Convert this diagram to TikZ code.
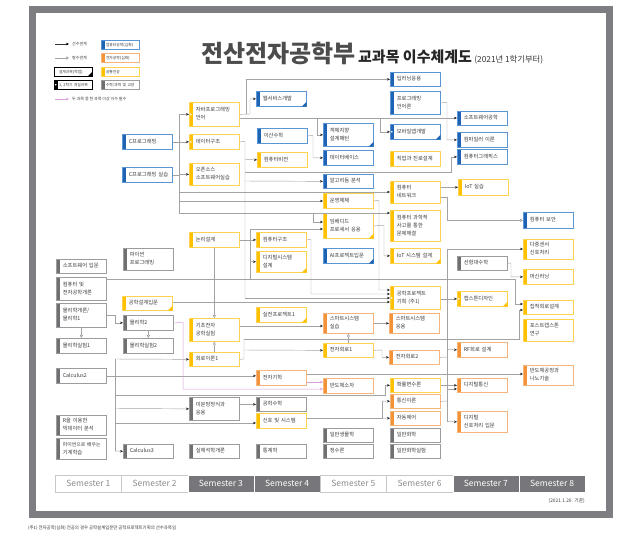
\documentclass[tikz,border=0pt]{standalone}
\usepackage{fontspec}
\newfontfamily\kr{Noto Sans CJK KR}
\usetikzlibrary{arrows.meta}
\definecolor{bluS}{HTML}{1F64B4}
\definecolor{bluB}{HTML}{5B95D3}
\definecolor{yelS}{HTML}{FFC000}
\definecolor{yelB}{HTML}{FFD34F}
\definecolor{orS}{HTML}{F39237}
\definecolor{orB}{HTML}{F6B57C}
\definecolor{grS}{HTML}{707073}
\definecolor{grB}{HTML}{9C9C9E}
\definecolor{txt}{HTML}{3A3A3A}
\definecolor{lnC}{HTML}{A3A3A3}
\definecolor{pinkC}{HTML}{D9A0DC}
\definecolor{frameC}{HTML}{7E7E82}
\definecolor{semD}{HTML}{77777B}
\newcommand{\btxt}[1]{\hspace*{2.5pt}\begin{tabular}{@{}l@{}}#1\end{tabular}}
\newcommand{\ltxt}[1]{\hspace*{1.2pt}\mbox{#1}}
\newcommand{\bx}[6]{\node[bx,#5,minimum height=#4pt] (#1) at (#2,#3) {\btxt{#6}};}
\newcommand{\trimark}[2]{\fill[#2] ([xshift=-5pt]#1.south east) -- (#1.south east) -- ([yshift=5pt]#1.south east) -- cycle;}
\newcommand{\dotmark}[1]{\fill[white] ([xshift=1.75pt]#1.west) circle (0.9pt);}
\tikzset{
  x=1pt,y=-1pt,
  strip/.style={path picture={\fill[#1] (path picture bounding box.north west) rectangle ([xshift=3.5pt]path picture bounding box.south west);}},
  bx/.style={rectangle, draw, line width=0.7pt, fill=white, inner xsep=4pt, inner ysep=0pt,
    text width=42pt, align=left, minimum width=50pt, anchor=north west,
    font=\kr\fontsize{5.3}{8}\selectfont, text=txt},
  cblue/.style={draw=bluB, strip=bluS},
  cyel/.style={draw=yelB, strip=yelS},
  cor/.style={draw=orB, strip=orS},
  cgr/.style={draw=grB, strip=grS},
  lbx/.style={rectangle, draw, line width=0.6pt, fill=white, inner xsep=3.5pt, inner ysep=0pt,
    text width=31pt, align=left, minimum width=38pt, minimum height=9pt, anchor=north west,
    font=\kr\fontsize{3.8}{5}\selectfont, text=txt},
  ltx/.style={anchor=west, inner sep=0pt, font=\kr\fontsize{4}{5}\selectfont, text=txt},
  ln/.style={draw=lnC, line width=0.45pt},
  ar/.style={ln, -{Stealth[length=3pt,width=2.6pt,color=black!85]}},
  op/.style={ln, -{Triangle[open,length=3pt,width=3pt,color=black!45]}},
  pk/.style={draw=pinkC, line width=0.5pt, -{Stealth[length=3pt,width=2.6pt,color=pinkC]}},
  semW/.style={rectangle, draw=black!22, fill=white, text=black!45, minimum width=66.25pt, minimum height=17pt, anchor=north west, inner sep=0pt, font=\kr\fontsize{8.5}{9}\selectfont},
  semK/.style={rectangle, draw=white, fill=semD, text=white, minimum width=66.25pt, minimum height=17pt, anchor=north west, inner sep=0pt, font=\kr\fontsize{8.5}{9}\selectfont}
}
\begin{document}
\begin{tikzpicture}
\useasboundingbox (0,0) rectangle (630,549);
\fill[white] (0,0) rectangle (630,549);
\draw[frameC, line width=7pt] (32.5,9.5) rectangle (609.5,514.5);

% title
\node[anchor=base west, inner sep=0pt, font=\kr\bfseries\fontsize{24}{24}\selectfont, text=black!70] (title) at (201,62) {전산전자공학부};
\node[anchor=base west, inner sep=0pt, font=\kr\bfseries\fontsize{15}{15}\selectfont, text=black!85] (subt) at ([xshift=2pt]title.base east) {교과목 이수체계도};
\node[anchor=base west, inner sep=0pt, font=\kr\fontsize{8.3}{9}\selectfont, text=black!80] (since) at ([xshift=2pt]subt.base east) {(2021년 1학기부터)};

% legend
\coordinate (l1a) at (55,44); \coordinate (l1b) at (69,44);
\draw[ln, draw=black!80, -{Stealth[length=3pt,width=2.6pt,color=black]}] (l1a) -- (l1b);
\node[ltx] (l1t) at (72,44) {선수관계};
\coordinate (l2a) at (55,58); \coordinate (l2b) at (69,58);
\draw[op] (l2a) -- (l2b);
\node[ltx] (l2t) at (72,58) {병수관계};
\node[lbx, draw=black] (lg3) at (54,67) {\ltxt{설계과목(학점)}};
\trimark{lg3}{black}
\node[lbx, draw=black, strip=black] (lg4) at (54,80) {\ltxt{1, 2학기 개설과목}};
\dotmark{lg4}
\node[lbx, cblue] (lg5) at (101,40) {\ltxt{컴퓨터공학(심화)}};
\node[lbx, cor] (lg6) at (101,53) {\ltxt{전자공학(심화)}};
\node[lbx, cyel] (lg7) at (101,67) {\ltxt{공통전공}};
\node[lbx, cgr] (lg8) at (101,80) {\ltxt{수학/과학 및 교양}};
\coordinate (l3a) at (55,99); \coordinate (l3b) at (69,99);
\draw[pk] (l3a) -- (l3b);
\node[ltx] (l3t) at (72,99) {두 과목 중 한 과목 이상 이수 필수};

% semester 1
\bx{sw}{56}{259}{14}{cgr}{소프트웨어 입문}
\bx{cee}{56}{277}{23}{cgr}{컴퓨터 및\\전자공학개론}
\bx{phy1}{56}{303}{24}{cgr}{물리학개론/\\물리학1}
\bx{phl1}{56}{338}{15}{cgr}{물리학실험1}
\bx{calc2}{56}{368}{15}{cgr}{Calculus2}
\bx{rbig}{56}{415}{20}{cgr}{R을 이용한\\빅데이터 분석}
\bx{pyml}{56}{438}{21}{cgr}{{\fontsize{4.9}{8}\selectfont 파이썬으로 배우는}\\기계학습}
% semester 2
\bx{cprog}{122}{134}{15}{cblue}{C프로그래밍}
\bx{cprogl}{122}{167}{15}{cblue}{C프로그래밍 실습}
\bx{pyprog}{123}{248}{22}{cgr}{파이썬\\프로그래밍}
\bx{edi}{122}{296}{14}{cyel}{공학설계입문}
\bx{phy2}{123}{315}{15}{cgr}{물리학2}
\bx{phl2}{123}{338}{15}{cgr}{물리학실험2}
\bx{calc3}{123}{444}{14}{cgr}{Calculus3}
% semester 3
\bx{java}{189}{102}{24}{cyel}{자바프로그래밍\\언어}
\bx{ds}{189}{134}{15}{cyel}{데이터구조}
\bx{oss}{189}{163}{22}{cyel}{오픈소스\\소프트웨어실습}
\bx{logic}{189}{232}{15}{cyel}{논리설계}
\bx{bee}{189}{318}{23}{cyel}{기초전자\\공학실험}
\bx{ct1}{189}{352}{14}{cyel}{회로이론1}
\bx{ode}{189}{397}{23}{cgr}{미분방정식과\\응용}
\bx{ra}{189}{444}{14}{cgr}{실해석학개론}
% semester 4
\bx{web}{256}{91}{15}{cblue}{웹서비스개발}
\bx{dm}{257}{128}{15}{cblue}{이산수학}
\bx{cv}{257}{152}{15}{cyel}{컴퓨터비전}
\bx{ca}{256}{232}{15}{cyel}{컴퓨터구조}
\bx{dsd}{256}{251}{21}{cyel}{디지털시스템\\설계}
\bx{prj1}{256}{307}{15}{cyel}{실전프로젝트1}
\bx{em}{256}{370}{15}{cor}{전자기학}
\bx{emath}{256}{397}{14}{cgr}{공학수학}
\bx{ss}{256}{413}{15}{cyel}{신호 및 시스템}
\bx{stat}{256}{444}{14}{cgr}{통계학}
% semester 5
\bx{oop}{323}{123}{23}{cblue}{객체지향\\설계패턴}
\bx{db}{323}{150}{15}{cblue}{데이터베이스}
\bx{algo}{323}{174}{14}{cblue}{알고리듬 분석}
\bx{os}{323}{193}{15}{cyel}{운영체제}
\bx{emb}{323}{213}{25}{cyel}{임베디드\\프로세서 응용}
\bx{aip}{323}{248}{15}{cblue}{AI프로젝트입문}
\bx{ssl}{323}{313}{20}{cor}{스마트시스템\\실습}
\bx{ec1}{323}{343}{14}{cyel}{전자회로1}
\bx{sd}{323}{378}{15}{cor}{반도체소자}
\bx{bio}{323}{428}{14}{cgr}{일반생물학}
\bx{nt}{323}{444}{14}{cgr}{정수론}
% semester 6
\bx{dl}{390}{72}{14}{cblue}{딥러닝응용}
\bx{pl}{390}{91}{23}{cblue}{프로그래밍\\언어론}
\bx{mob}{390}{124}{15}{cblue}{모바일앱개발}
\bx{career}{390}{151}{15}{cyel}{직업과 진로설계}
\bx{net}{390}{181}{22}{cyel}{컴퓨터\\네트워크}
\bx{cst}{390}{210}{31}{cyel}{컴퓨터 과학적\\사고를 통한\\문제해결}
\bx{iotd}{390}{248}{15}{cyel}{IoT 시스템 설계}
\bx{epp}{390}{286}{23}{cyel}{공학프로젝트\\기획 (주1)}
\bx{ssa}{389}{313}{20}{cor}{스마트시스템\\응용}
\bx{ec2}{389}{350}{14}{cor}{전자회로2}
\bx{prob}{390}{378}{14}{cyel}{확률변수론}
\bx{comm}{390}{394}{14}{cor}{통신이론}
\bx{ctrl}{390}{411}{14}{cor}{자동제어}
\bx{chem}{390}{428}{14}{cgr}{일반화학}
\bx{cheml}{390}{444}{14}{cgr}{일반화학실험}
% semester 7
\bx{se}{457}{111}{14}{cblue}{소프트웨어공학}
\bx{comp}{457}{132}{15}{cblue}{컴파일러 이론}
\bx{cg}{457}{149}{15}{cblue}{컴퓨터그래픽스}
\bx{iot}{458}{179}{16}{cyel}{IoT 실습}
\bx{la}{457}{256}{14}{cgr}{선형대수학}
\bx{cap}{457}{291}{15}{cyel}{캡스톤디자인}
\bx{rf}{457}{342}{15}{cor}{RF회로 설계}
\bx{dcomm}{457}{378}{14}{cor}{디지털통신}
\bx{dsp}{457}{411}{21}{cor}{디지털\\신호처리 입문}
% semester 8
\bx{sec}{523}{212}{16}{cblue}{컴퓨터 보안}
\bx{msp}{523}{239}{20}{cyel}{다중센서\\신호처리}
\bx{ml}{523}{269}{15}{cyel}{머신러닝}
\bx{icd}{523}{300}{14}{cyel}{집적회로설계}
\bx{pcap}{523}{319}{22}{cyel}{포스트캡스톤\\연구}
\bx{semi}{523}{365}{20}{cor}{반도체공정과\\나노기술}

% design / semester marks
\trimark{web}{bluS}
\trimark{oop}{bluS}
\trimark{mob}{bluS}
\trimark{aip}{bluS}
\trimark{emb}{yelS}
\trimark{iotd}{yelS}
\trimark{cap}{yelS}
\trimark{dsd}{yelS}
\trimark{edi}{yelS}
\trimark{prj1}{yelS}
\dotmark{java}
\dotmark{ds}
\dotmark{mob}
\dotmark{epp}
\dotmark{cap}

% ---- connectors ----
% C programming trunk
\draw[ln] (cprog.east) -- (cprog.east -| 179,0);
\draw[ln] (cprogl.east) -- (cprogl.east -| 179,0);
\draw[ln] (java.west -| 179,0) -- (179,213);
\draw[ar] (java.west -| 179,0) -- (java.west);
\draw[ar] (ds.west -| 179,0) -- (ds.west);
\draw[ar] (oss.west -| 179,0) -- (oss.west);
\draw[ar] (179,192) -- (net.west |- 0,192);
\draw[ar] (179,201) -- (os.west |- 0,201);
\draw[ar] (179,213) -- (cst.west |- 0,213);
\draw[ar] (313,213) |- (emb.west |- 0,222);
% java
\draw[ar] (java.east) -- (250,114) |- (web.west);
\draw[ar] (246,114) |- (dl.west);
\draw[ar] (java.east |- 0,118) -- (se.west |- 0,118);
\draw[ar] (317,118) |- (oop.west);
\draw[ar] (380,118) |- (mob.west);
% data structure
\draw[ln] (ds.east) -- (245,141.5) -- (245,298);
\draw[ar] (245,298) -- (epp.west |- 0,298);
\draw[ar] (245,159.5) -- (cv.west);
\draw[ar] (245,172) -- (451,172) |- (cg.west);
\draw[ar] (245,181) -- (algo.west);
% discrete math
\draw[ar] (dm.east) -- (313,135.5) |- (db.west);
% programming languages
\draw[ar] (pl.east) -- (447,102.5) |- (comp.west);
% network
\draw[ar] (net.east |- iot.west) -- (iot.west);
\draw[op] (net.east |- 0,197) -- (447,197) |- (sec.west);
% OS, embedded
\draw[ar] (os.east) -- (379,200.5) |- (epp.west |- 0,290);
\draw[ar] (emb.east) -- (384,225.5) |- (iotd.west);
% logic design
\draw[ar] (logic.east) -- (ca.west);
\draw[ln] (250,229) -- (250,279);
\draw[ar] (250,261.5) -- (dsd.west);
\draw[ar] (250,229) -- (emb.west |- 0,229);
\draw[ar] (ca.east) -- (311,239.5) |- (epp.west |- 0,294);
\draw[op] (logic.south) -- (bee.north);
% engineering design
\draw[ar] (edi.east |- 0,302) -- (epp.west |- 0,302);
\draw[ar] (cee.east |- 0,279) -- (515,279) |- (icd.west |- 0,304);
\draw[ar] (epp.east |- cap.west) -- (cap.west);
\draw[ar] (la.east) -- (511,263) |- (ml.west);
% circuits
\draw[ln] (ct1.east) -- (244,359) -- (244,339);
\draw[ar] (244,350) -- (ec1.west);
\draw[ar] (244,339) -- (519,339) |- (icd.west |- 0,310);
\draw[op] (ct1.north) -- (bee.south);
\draw[ar] (bee.east |- 0,326) -- (ssl.west |- 0,326);
\draw[ar] (ssl.east) -- (ssa.west);
\draw[op] (ec1.north) -- (ssl.south);
\draw[ar] (ec1.east) -- (382,350) |- (ec2.west);
% physics
\draw[ar] (phy1.east |- 0,315) -- (115,315) |- (phy2.west);
\draw[op] (phy1.south) -- (phl1.north);
\draw[op] (phy2.south) -- (phl2.north);
% calculus trunk
\draw[ln] (115,359) -- (115,451);
\draw[ar] (115,359) -- (ct1.west);
\draw[ar] (calc2.east) -- (em.west |- calc2.east);
\draw[ar] (115,395) -- (385,395) |- (prob.west);
\draw[ar] (115,408.5) -- (ode.west);
\draw[ar] (115,423) -- (ss.west |- 0,423);
\draw[ar] (115,451) -- (calc3.west);
\draw[ar] (ode.east |- emath.west) -- (emath.west);
% signals
\draw[ln] (ss.east |- 0,418) -- (382,418) -- (382,401);
\draw[ar] (382,401) -- (comm.west);
\draw[ar] (382,418) -- (ctrl.west);
\draw[ln] (comm.east) -- (447,401);
\draw[ln] (ec2.east) -- (447,357);
\draw[ln] (447,249) -- (447,421.5);
\draw[ar] (447,249) -- (msp.west |- 0,249);
\draw[ar] (447,349.5) -- (rf.west);
\draw[ar] (447,389) -- (dcomm.west |- 0,389);
\draw[ar] (447,421.5) -- (dsp.west);
\draw[ar] (prob.east) -- (dcomm.west |- prob.east);
\draw[ar] (em.east |- 0,374) -- (semi.west |- 0,374);
% pink (one of two required)
\draw[pk] (phy2.east) -- (183,322.5) |- (sd.west |- 0,389);
\draw[pk] (em.east |- 0,382) -- (sd.west |- 0,382);

% semester bar
\node[semW] (s1) at (55,475) {Semester 1};
\node[semW] (s2) at (121.25,475) {Semester 2};
\node[semK] (s3) at (187.5,475) {Semester 3};
\node[semK] (s4) at (253.75,475) {Semester 4};
\node[semW] (s5) at (320,475) {Semester 5};
\node[semW] (s6) at (386.25,475) {Semester 6};
\node[semK] (s7) at (452.5,475) {Semester 7};
\node[semK] (s8) at (518.75,475) {Semester 8};
\node[anchor=east, inner sep=0pt, font=\kr\fontsize{4.8}{5}\selectfont, text=black!75] (date) at (585,501) {(2021.1.20. 기준)};
\node[anchor=west, inner sep=0pt, font=\kr\fontsize{4.4}{5}\selectfont, text=black!80] (fn) at (28,528) {(주1) 전자공학(심화) 전공의 경우 공학설계입문만 공학프로젝트기획의 선수과목임};
\end{tikzpicture}
\end{document}
